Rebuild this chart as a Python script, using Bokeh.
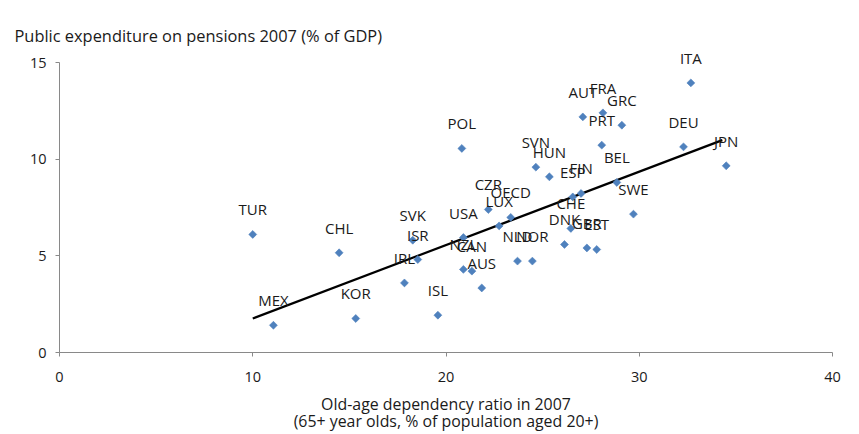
import math
from bokeh.plotting import figure
from bokeh.models import ColumnDataSource, Range1d, FixedTicker, LabelSet
from bokeh.core.properties import value
from bokeh.embed import file_html
from bokeh.resources import INLINE

countries = ["TUR", "CHL", "MEX", "KOR", "SVK", "ISR", "IRL", "ISL", "POL", "USA",
             "NZL", "CAN", "AUS", "CZR", "LUX", "OECD", "NLD", "NOR", "SVN", "HUN",
             "DNK", "CHE", "ESP", "FIN", "AUT", "GBR", "EST", "PRT", "FRA", "BEL",
             "GRC", "SWE", "DEU", "ITA", "JPN"]
dependency = [10.0, 14.47, 11.07, 15.33, 18.28, 18.54, 17.85, 19.58, 20.82, 20.9,
              20.9, 21.34, 21.85, 22.19, 22.75, 23.35, 23.7, 24.47, 24.65, 25.35,
              26.13, 26.46, 26.56, 26.99, 27.08, 27.29, 27.8, 28.06, 28.12, 28.84,
              29.1, 29.7, 32.29, 32.67, 34.5]
pensions = [6.11, 5.16, 1.41, 1.76, 5.81, 4.81, 3.60, 1.93, 10.56, 5.95,
            4.30, 4.21, 3.34, 7.40, 6.55, 6.99, 4.73, 4.73, 9.59, 9.09,
            5.59, 6.42, 8.05, 8.23, 12.19, 5.41, 5.33, 10.73, 12.40, 8.80,
            11.76, 7.16, 10.64, 13.95, 9.66]
trend_x = [10.0, 34.3]
trend_y = [1.76, 10.99]
x_ticks = [0, 10, 20, 30, 40]
y_ticks = [0, 5, 10, 15]

FONT = "Open Sans"
TXT = "#1a1a1a"
AXC = "#898989"

src = ColumnDataSource(dict(x=dependency, y=pensions, name=countries))

p = figure(width=843, height=434, output_backend="svg", toolbar_location=None,
           x_range=Range1d(0, 40), y_range=Range1d(0, 15.73),
           min_border_left=59, min_border_right=11, min_border_top=48, min_border_bottom=82)
p.outline_line_color = None
p.grid.visible = False
p.background_fill_color = "white"

p.title.text = "Public expenditure on pensions 2007 (% of GDP)"
p.title.text_font = FONT
p.title.text_font_size = "16.4px"
p.title.text_font_style = "normal"
p.title.text_color = TXT
p.title.align = "left"
p.title.offset = -45
p.title.standoff = 3

for ax in (p.xaxis[0], p.yaxis[0]):
    ax.axis_line_color = AXC
    ax.major_tick_line_color = AXC
    ax.major_tick_out = 4
    ax.major_tick_in = 0
    ax.minor_tick_line_color = None
    ax.major_label_text_font = FONT
    ax.major_label_text_font_size = "14.5px"
    ax.major_label_text_color = TXT

p.xaxis.ticker = FixedTicker(ticks=x_ticks)
p.yaxis.ticker = FixedTicker(ticks=y_ticks)
p.yaxis.bounds = (0, 15)
p.xaxis.major_label_standoff = 15
p.yaxis.major_label_standoff = 9

p.xaxis.axis_label = "Old-age dependency ratio in 2007\n(65+ year olds, % of population aged 20+)"
p.xaxis.axis_label_text_font = FONT
p.xaxis.axis_label_text_font_size = "15.9px"
p.xaxis.axis_label_text_font_style = "normal"
p.xaxis.axis_label_text_color = TXT
p.xaxis.axis_label_text_line_height = 0.78
p.xaxis.axis_label_standoff = 8

p.line(trend_x, trend_y, line_color="black", line_width=2.2)
p.scatter("x", "y", source=src, marker="square", angle=math.pi / 4, size=5.6,
          fill_color="#4F81BD", line_color="#4F81BD", line_width=0.6)

labels = LabelSet(x="x", y="y", text="name", source=src, y_offset=25,
                  text_align="center", text_baseline="middle",
                  text_font=value(FONT), text_font_size=value("15px"), text_color=TXT)
p.add_layout(labels)

open("out.html", "w").write(file_html(p, INLINE))
